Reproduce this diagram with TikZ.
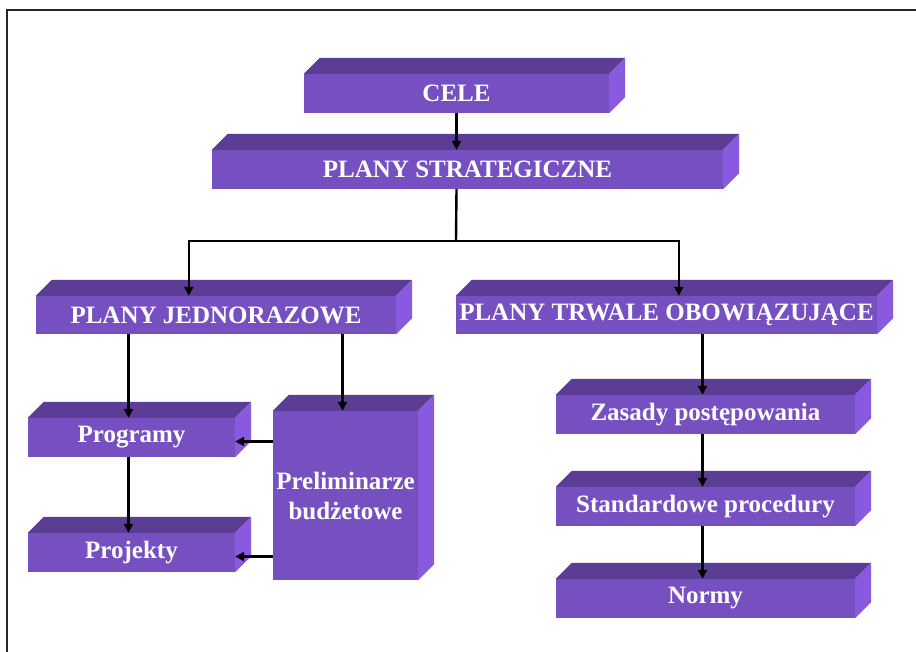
\documentclass[tikz,border=0pt]{standalone}
\usepackage{fontspec}
\setmainfont{Liberation Serif}
\usetikzlibrary{arrows.meta,calc,positioning}

\definecolor{frontc}{RGB}{118,80,192}
\definecolor{topc}{RGB}{91,61,150}
\definecolor{sidec}{RGB}{137,90,224}

\tikzset{
  slab/.style={fill=frontc, text=white, inner sep=0pt, align=center,
    font=\bfseries\fontsize{25}{30}\selectfont},
  link/.style={line width=2.4pt},
  arr/.style={link, -{Triangle[length=9pt,width=9pt]}}
}

\begin{document}
\begin{tikzpicture}[x=1pt,y=-1pt]
\useasboundingbox (0,0) rectangle (916,652);
\draw[line width=1.6pt, black!85] (7,660) -- (7,10) -- (925,10);

% front faces
\node[slab, minimum width=305, minimum height=39] (cele) at (456.5,93.5) {CELE};
\node[slab, minimum width=511, minimum height=39] (strat) at (467.5,169.5) {PLANY STRATEGICZNE};
\node[slab, minimum width=360, minimum height=38] (jedn) at (216,315) {PLANY JEDNORAZOWE};
\node[slab, minimum width=421, minimum height=38] (trwale) at (666.5,315) {PLANY TRWALE OBOWIĄZUJĄCE};
\node[slab, minimum width=207, minimum height=39] (prog) at (131.5,437.5) {Programy};
\node[slab, minimum width=207, minimum height=39] (proj) at (131.5,552.5) {Projekty};
\node[slab, minimum width=145, minimum height=169] (prel) at (345.5,495.5) {Preliminarze\\budżetowe};
\node[slab, minimum width=299, minimum height=39] (zas) at (705.5,414.5) {Zasady postępowania};
\node[slab, minimum width=299, minimum height=39] (stand) at (705.5,506.5) {Standardowe procedury};
\node[slab, minimum width=299, minimum height=39] (normy) at (705.5,598.5) {Normy};

% top and side faces
\foreach \n in {cele,strat,jedn,trwale,prog,proj,prel,zas,stand,normy} {
  \fill[topc] (\n.north west) -- ++(16,-16) -- ($(\n.north east)+(16,-16)$) -- (\n.north east) -- cycle;
  \fill[sidec] (\n.north east) -- ++(16,-16) -- ($(\n.south east)+(16,-16)$) -- (\n.south east) -- cycle;
}

% connectors
\coordinate (split) at (456,241);
\draw[arr] (cele.south) -- (cele.south |- strat.north);
\draw[link] (cele.south |- strat.south) -- (split);
\draw[arr] (split) -| ($(jedn.north west)+(153,0)$);
\draw[arr] (split) -| ($(trwale.north west)+(223,0)$);
\draw[arr] ([xshift=-3pt]prog.north |- jedn.south) -- ([xshift=-3pt]prog.north);
\draw[arr] ([xshift=-3pt]prel.north |- jedn.south) -- ([xshift=-3pt]prel.north);
\draw[arr] ([xshift=-3pt]prog.south) -- ([xshift=-3pt]proj.north);
\draw[arr] ([yshift=-4pt]prel.west |- prog.east) -- ([yshift=-4pt]prog.east);
\draw[arr] ([yshift=-4pt]prel.west |- proj.east) -- ([yshift=-4pt]proj.east);
\draw[arr] ([xshift=-3pt]zas.north |- trwale.south) -- ([xshift=-3pt]zas.north);
\draw[arr] ([xshift=-3pt]zas.south) -- ([xshift=-3pt]stand.north);
\draw[arr] ([xshift=-3pt]stand.south) -- ([xshift=-3pt]normy.north);
\end{tikzpicture}
\end{document}
